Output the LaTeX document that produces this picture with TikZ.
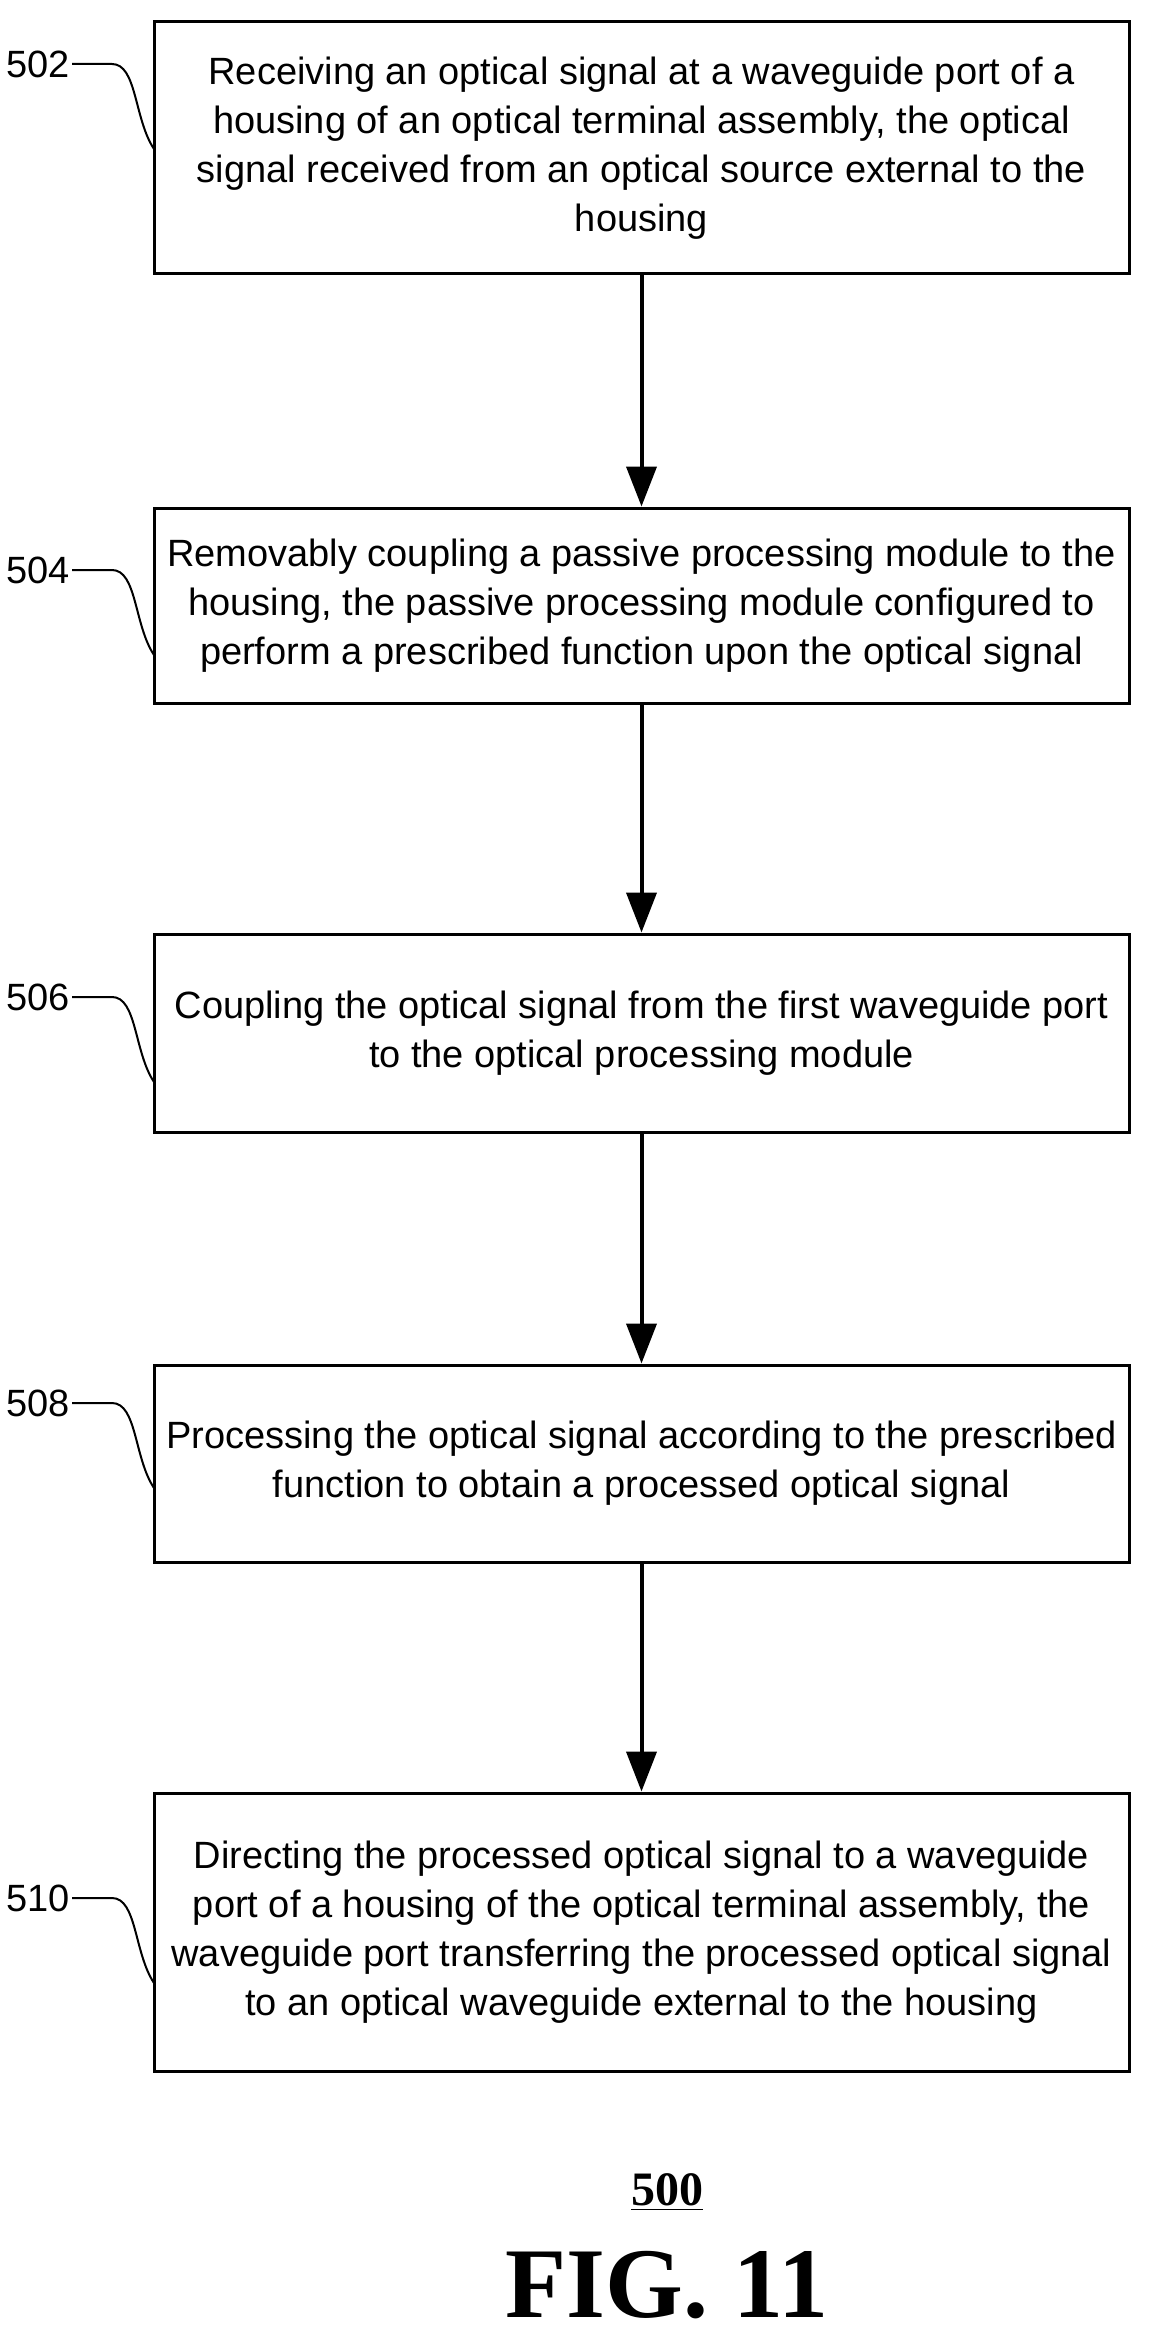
\documentclass[tikz,border=0pt]{standalone}
\usepackage{fontspec}
\setmainfont{Liberation Sans}
\newfontfamily\serifb{Liberation Serif}
\usetikzlibrary{arrows.meta}
\begin{document}
\begin{tikzpicture}[x=0.5pt,y=-0.5pt,
  box/.style={draw,line width=1.5pt,minimum width=487.5pt,align=center,inner sep=0pt,font=\fontsize{19}{24.5}\selectfont},
  arr/.style={line width=2pt,-{Triangle[length=20pt,width=15pt]}},
  lbl/.style={font=\fontsize{19}{22}\selectfont,anchor=east,inner sep=1pt},
  lead/.style={line width=1pt}]
\useasboundingbox (0,0) rectangle (1151,2338);
\node[box,minimum height=126pt] (b1) at (641.5,148) {Receiving an optical signal at a waveguide port of a\\housing of an optical terminal assembly, the optical\\signal received from an optical source external to the\\housing};
\node[box,minimum height=97.5pt] (b2) at (641.5,605.5) {Removably coupling a passive processing module to the\\housing, the passive processing module configured to\\perform a prescribed function upon the optical signal};
\node[box,minimum height=99pt] (b3) at (641.5,1033) {Coupling the optical signal from the first waveguide port\\to the optical processing module};
\node[box,minimum height=98.5pt] (b4) at (641.5,1463.5) {Processing the optical signal according to the prescribed\\function to obtain a processed optical signal};
\node[box,minimum height=139pt] (b5) at (641.5,1932) {Directing the processed optical signal to a waveguide\\port of a housing of the optical terminal assembly, the\\waveguide port transferring the processed optical signal\\to an optical waveguide external to the housing};
\draw[arr] (b1) -- (b2);
\draw[arr] (b2) -- (b3);
\draw[arr] (b3) -- (b4);
\draw[arr] (b4) -- (b5);
\foreach \n/\t/\y in {1/502/64,2/504/570,3/506/997,4/508/1403,5/510/1898}{
  \node[lbl] (l\n) at (72,\y) {\t};
  \coordinate (e\n) at (154,\y+85);
  \draw[lead] (l\n.east) -- ++(40,0) .. controls +(25,0) and +(-20,-30) .. (e\n);
}
\node[font=\serifb\bfseries\fontsize{24}{28}\selectfont] (n500) at (667,2192) {\underline{500}};
\node[font=\serifb\bfseries\fontsize{50}{56}\selectfont] (fig) at (667,2285) {FIG. 11};
\end{tikzpicture}
\end{document}
